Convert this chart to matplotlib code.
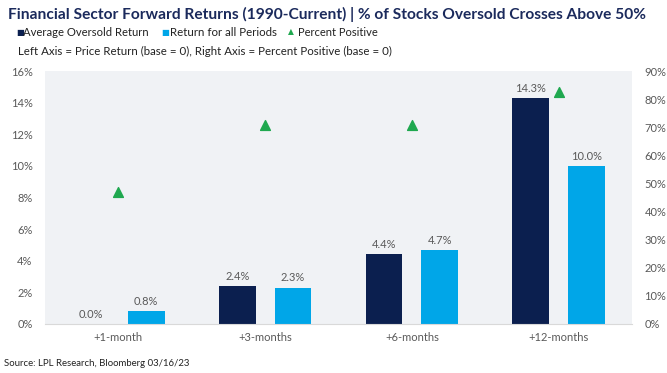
import matplotlib.pyplot as plt
import numpy as np
from matplotlib.ticker import PercentFormatter

categories = ["+1-month", "+3-months", "+6-months", "+12-months"]
avg_oversold = [0.0, 2.4, 4.4, 14.3]
all_periods = [0.8, 2.3, 4.7, 10.0]
pct_positive = [47.0, 70.8, 70.8, 82.5]

NAVY = "#0b1f4f"
BLUE = "#00a6e8"
GREEN = "#1fa84f"
GREY = "#595959"
TXT = "#222222"

plt.rcParams["font.family"] = ["Lato", "DejaVu Sans"]

W, H = 667, 373
fig = plt.figure(figsize=(W / 100, H / 100), dpi=100)
ax = fig.add_axes([45 / W, 1 - 324 / H, 587 / W, 253 / H])
ax.set_facecolor("#f0f2f5")

x = np.arange(len(categories))
bw = 0.25
off = 0.19
ax.bar(x - off, avg_oversold, bw, color=NAVY, zorder=2)
ax.bar(x + off, all_periods, bw, color=BLUE, zorder=2)
for i, (a, b) in enumerate(zip(avg_oversold, all_periods)):
    ax.annotate(f"{a:.1f}%", (i - off, a), xytext=(0, 3), textcoords="offset points",
                ha="center", va="bottom", fontsize=8, color=GREY)
    ax.annotate(f"{b:.1f}%", (i + off, b), xytext=(0, 3), textcoords="offset points",
                ha="center", va="bottom", fontsize=8, color=GREY)

ax.set_xlim(-0.5, len(categories) - 0.5)
ax.set_ylim(0, 16)
ax.set_yticks(np.arange(0, 17, 2))
ax.yaxis.set_major_formatter(PercentFormatter(decimals=0))
ax.set_xticks(x)
ax.set_xticklabels(categories)
ax.tick_params(axis="both", length=0, labelsize=8, labelcolor=GREY)
ax.tick_params(axis="x", pad=6)
ax.tick_params(axis="y", pad=9)
for s in ["top", "right", "left"]:
    ax.spines[s].set_visible(False)
ax.spines["bottom"].set_color("#d9d9d9")

ax2 = ax.twinx()
ax2.scatter(x, pct_positive, marker="^", s=50, color=GREEN, zorder=3)
ax2.set_ylim(0, 90)
ax2.set_yticks(np.arange(0, 91, 10))
ax2.yaxis.set_major_formatter(PercentFormatter(decimals=0))
ax2.tick_params(axis="y", length=0, labelsize=8, labelcolor=GREY, pad=9)
for s in ax2.spines.values():
    s.set_visible(False)

renderer = fig.canvas.get_renderer()


def put(x0, x1, yc, s, size, **kw):
    # place text starting at x0 and scale it so it ends near x1 (pixels)
    t = fig.text(x0 / W, 1 - yc / H, s, fontsize=size, va="center", **kw)
    w = t.get_window_extent(renderer).width
    t.set_fontsize(size * (x1 - x0) / w)
    return t


put(8, 646, 14, "Financial Sector Forward Returns (1990-Current) | % of Stocks Oversold Crosses Above 50%",
    11, fontweight="bold", color="#1b2a5c")

y_leg = 32
fig.text(16 / W, 1 - y_leg / H, "■", fontsize=6, color=NAVY, va="center", family="DejaVu Sans")
put(23, 148, y_leg, "Average Oversold Return", 8, color=TXT)
fig.text(161 / W, 1 - y_leg / H, "■", fontsize=6, color=BLUE, va="center", family="DejaVu Sans")
put(170, 277, y_leg, "Return for all Periods", 8, color=TXT)
fig.text(288 / W, 1 - y_leg / H, "▲", fontsize=5.5, color=GREEN, va="center", family="DejaVu Sans")
put(298, 378, y_leg, "Percent Positive", 8, color=TXT)

put(18, 392, 51, "Left Axis = Price Return (base = 0), Right Axis = Percent Positive (base = 0)",
    8, color=TXT)

put(4, 190, 363, "Source: LPL Research, Bloomberg 03/16/23", 7, color=TXT)

fig.savefig("out.png", dpi=100, facecolor="white")
